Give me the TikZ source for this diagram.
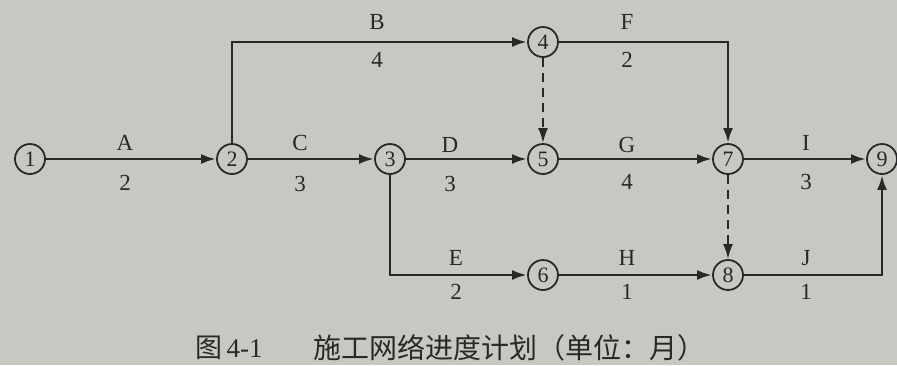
\documentclass[tikz,border=0pt]{standalone}
\usepackage{fontspec}
\setmainfont{Liberation Serif}
\newfontfamily\cjk{Noto Sans CJK SC}
\usetikzlibrary{arrows.meta}
\definecolor{bg}{RGB}{200,200,194}
\definecolor{ink}{RGB}{40,40,40}
\tikzset{
  ev/.style={circle,draw=ink,line width=1.8pt,minimum size=30pt,inner sep=0pt,font=\fontsize{22}{22}\selectfont,text=ink},
  act/.style={draw=ink,line width=2.8pt,-{Latex[length=15pt,width=10pt]}},
  dum/.style={act,dash pattern=on 9pt off 6pt,line width=2.2pt},
  lab/.style={font=\fontsize{23}{23}\selectfont,text=ink,inner sep=0pt}
}
\begin{document}
\begin{tikzpicture}[x=1pt,y=-1pt]
\fill[bg] (0,0) rectangle (897,365);
\useasboundingbox (0,0) rectangle (897,365);
\node[ev] (n1) at (30,159) {1};
\node[ev] (n2) at (232,159) {2};
\node[ev] (n3) at (390,159) {3};
\node[ev] (n4) at (543,42) {4};
\node[ev] (n5) at (543,159) {5};
\node[ev] (n6) at (543,275) {6};
\node[ev] (n7) at (728,159) {7};
\node[ev] (n8) at (728,275) {8};
\node[ev] (n9) at (882,159) {9};
\draw[act] (n1) -- (n2);
\draw[act] (n2) -- (n3);
\draw[act] (n2.north) |- (n4);
\draw[act] (n3) -- (n5);
\draw[act] (n3.south) |- (n6);
\draw[act] (n4) -| (n7.north);
\draw[act] (n5) -- (n7);
\draw[act] (n6) -- (n8);
\draw[act] (n7) -- (n9);
\draw[act] (n8) -| (n9.south);
\draw[dum] (n4) -- (n5);
\draw[dum] (n7) -- (n8);
\node[lab] (la) at (125,143) {A};
\node[lab] (da) at (125,183) {2};
\node[lab] (lb) at (377,22) {B};
\node[lab] (db) at (377,60) {4};
\node[lab] (lc) at (300,143) {C};
\node[lab] (dc) at (300,184) {3};
\node[lab] (ld) at (450,145) {D};
\node[lab] (dd) at (450,184) {3};
\node[lab] (lf) at (627,22) {F};
\node[lab] (df) at (627,60) {2};
\node[lab] (lg) at (627,145) {G};
\node[lab] (dg) at (627,182) {4};
\node[lab] (li) at (806,143) {I};
\node[lab] (di) at (806,182) {3};
\node[lab] (le) at (456,258) {E};
\node[lab] (de) at (456,292) {2};
\node[lab] (lh) at (627,258) {H};
\node[lab] (dh) at (627,292) {1};
\node[lab] (lj) at (806,258) {J};
\node[lab] (dj) at (806,292) {1};
\node[lab,font=\fontsize{27}{27}\selectfont,anchor=west] (capa) at (195,348) {{\cjk 图}\,4-1};
\node[lab,font=\fontsize{28}{28}\selectfont,anchor=west] (capb) at (313,348) {\cjk 施工网络进度计划（单位：月）};
\end{tikzpicture}
\end{document}
